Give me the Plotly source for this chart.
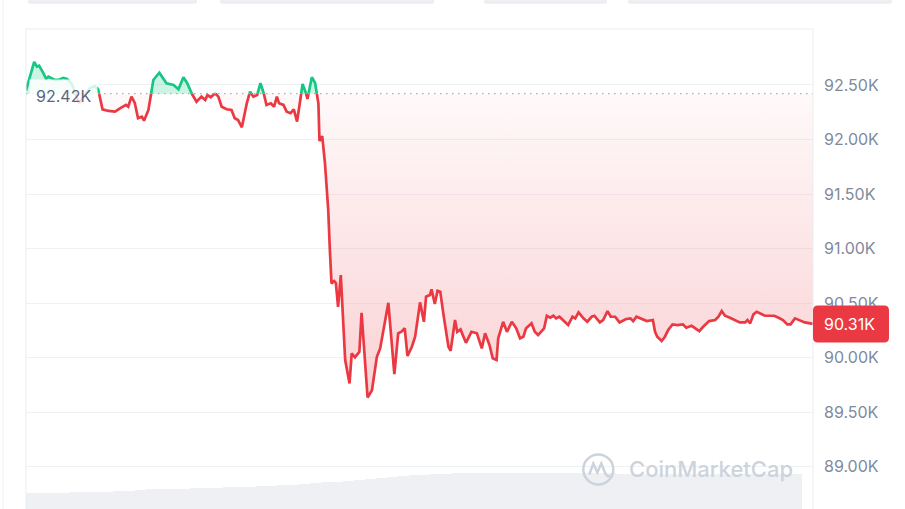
import plotly.graph_objects as go
import pandas as pd

# ---------------- data ----------------
START = pd.Timestamp("2025-12-09 01:00")
BASELINE_K = 92.42          # reference (open) price, in K USD
LAST_K = 90.31              # last price, in K USD

minutes = [0, 15, 20, 24, 32, 37, 41, 45, 53, 59, 68, 75, 84, 92, 97, 106, 117, 126, 132,
           140, 151, 163, 172, 183, 187, 193, 199, 205, 212, 216, 224, 233, 244, 251, 257,
           270, 279, 288, 295, 303, 312, 321, 328, 332, 338, 346, 352, 358, 367, 376, 382,
           388, 395, 404, 410, 416, 423, 429, 435, 440, 448, 454, 459, 463, 471, 477, 484,
           490, 496, 501, 506, 512, 515, 523, 529, 535, 537, 542, 547, 553, 556, 559, 564,
           567, 571, 576, 584, 592, 596, 602, 610, 614, 625, 633, 642, 648, 663, 674, 681,
           687, 693, 698, 706, 712, 721, 728, 732, 739, 742, 748, 753, 758, 764, 773, 777,
           785, 789, 795, 805, 815, 825, 834, 840, 848, 854, 861, 864, 873, 880, 889, 897,
           904, 910, 915, 925, 931, 937, 944, 948, 953, 959, 965, 970, 976, 983, 992, 1000,
           1005, 1011, 1020, 1027, 1035, 1040, 1050, 1056, 1064, 1070, 1078, 1086, 1098,
           1106, 1111, 1117, 1130, 1136, 1147, 1151, 1155, 1163, 1169, 1175, 1183, 1192,
           1202, 1208, 1218, 1224, 1232, 1239, 1250, 1261, 1267, 1273, 1279, 1288, 1299,
           1306, 1316, 1320, 1325, 1331, 1337, 1343, 1352, 1360, 1369, 1377, 1385, 1393,
           1399, 1407, 1416, 1425, 1440]

price_k = [92.450, 92.711, 92.668, 92.677, 92.607, 92.555, 92.576, 92.564, 92.546, 92.546,
           92.564, 92.555, 92.509, 92.399, 92.335, 92.399, 92.472, 92.491, 92.461,
           92.277, 92.262, 92.255, 92.286, 92.317, 92.301, 92.393, 92.335, 92.195, 92.209,
           92.173, 92.271, 92.546, 92.613, 92.561, 92.516,
           92.500, 92.461, 92.571, 92.516, 92.424, 92.347, 92.393, 92.362, 92.408, 92.387,
           92.424, 92.393, 92.301, 92.277, 92.271, 92.195,
           92.179, 92.112, 92.332, 92.439, 92.393, 92.408, 92.516, 92.424, 92.317, 92.332,
           92.301, 92.393, 92.332, 92.317, 92.255, 92.241,
           92.277, 92.164, 92.332, 92.509, 92.429, 92.372, 92.571, 92.518, 92.332, 91.986,
           92.032, 91.785, 91.354, 90.987, 90.682, 90.703,
           90.685, 90.467, 90.758, 89.979, 89.765, 90.040, 90.003, 90.055, 90.412, 89.636,
           89.703, 90.009, 90.086, 90.504, 89.850, 90.224,
           90.239, 90.270, 90.016, 90.101, 90.193, 90.508, 90.330, 90.559, 90.575, 90.627,
           90.492, 90.614, 90.605, 90.391, 90.101, 90.064,
           90.346, 90.238, 90.260, 90.137, 90.238, 90.224, 90.086, 90.224, 90.117, 89.995,
           89.979, 90.177, 90.330, 90.238, 90.330, 90.270,
           90.178, 90.193, 90.270, 90.315, 90.238, 90.208, 90.254, 90.270, 90.385, 90.367,
           90.385, 90.361, 90.376, 90.346, 90.300, 90.376,
           90.361, 90.416, 90.361, 90.330, 90.376, 90.385, 90.324, 90.346, 90.428, 90.376,
           90.376, 90.324, 90.355,
           90.361, 90.336, 90.376, 90.346, 90.336, 90.346, 90.238, 90.193, 90.153, 90.193,
           90.254, 90.306, 90.300,
           90.306, 90.275, 90.293, 90.275, 90.244, 90.284, 90.336, 90.346, 90.376, 90.428,
           90.385, 90.367, 90.336,
           90.324, 90.324, 90.346, 90.315, 90.398, 90.422, 90.407, 90.385, 90.385, 90.385,
           90.367, 90.346, 90.306,
           90.306, 90.361, 90.346, 90.324, 90.310]

# rolling 24h volume (billions USD), one bucket per 20 minutes starting at minute 0
vol_bucket_minutes = 20
volume_b = [32, 32.2, 32.4, 32.6, 33.2, 34, 34.4, 35, 35.8, 36.4,
            39, 39.6, 40, 40.6, 41, 42, 42.4, 42.8, 43.4, 44.2,
            45, 45.6, 46.4, 47.6, 49, 51, 52, 53.4, 55, 57,
            59, 60.6, 62, 64, 66, 68, 69, 70, 71, 71.6,
            72, 72.2, 72.4, 72.6, 72.6, 72.6, 72.4, 72.2, 72, 72,
            72, 71.6, 71.4, 71.2, 71, 71, 70.8, 70.6, 70.6, 70.4,
            70.4, 70.2, 70, 70, 70, 70, 70, 70, 70, 70, 70]

tick_vals = [89.0, 89.5, 90.0, 90.5, 91.0, 91.5, 92.0, 92.5]
tick_text = ["89.00K", "89.50K", "90.00K", "90.50K", "91.00K", "91.50K", "92.00K", "92.50K"]

GREEN = "#16c784"
RED = "#ea3943"

# ---------------- split at baseline crossings ----------------
xs, ys = [], []
for i in range(len(minutes)):
    if i > 0:
        p0, p1 = price_k[i - 1], price_k[i]
        if (p0 - BASELINE_K) * (p1 - BASELINE_K) < 0:
            f = (BASELINE_K - p0) / (p1 - p0)
            xs.append(minutes[i - 1] + f * (minutes[i] - minutes[i - 1]))
            ys.append(BASELINE_K)
    xs.append(minutes[i])
    ys.append(price_k[i])

times = START + pd.to_timedelta(xs, unit="m")
above = [max(v, BASELINE_K) for v in ys]
below = [min(v, BASELINE_K) for v in ys]
green_line = [v if v >= BASELINE_K else None for v in ys]
red_line = [v if v <= BASELINE_K else None for v in ys]
base = [BASELINE_K] * len(ys)
vol_times = START + pd.to_timedelta(
    [i * vol_bucket_minutes for i in range(len(volume_b))], unit="m")

fig = go.Figure()

# volume (secondary axis)
fig.add_trace(go.Bar(x=vol_times, y=volume_b, yaxis="y2", marker_color="#eef0f3",
                     marker_line_width=0, offset=0,
                     width=vol_bucket_minutes * 60 * 1000,
                     hoverinfo="skip", showlegend=False))

# fills
fig.add_trace(go.Scatter(x=times, y=base, mode="lines", line=dict(width=0),
                         hoverinfo="skip", showlegend=False))
fig.add_trace(go.Scatter(x=times, y=above, mode="lines", line=dict(width=0),
                         fill="tonexty", fillcolor="rgba(22,199,132,0.22)",
                         hoverinfo="skip", showlegend=False))
fig.add_trace(go.Scatter(x=times, y=base, mode="lines", line=dict(width=0),
                         hoverinfo="skip", showlegend=False))
fig.add_trace(go.Scatter(x=times, y=below, mode="lines", line=dict(width=0),
                         fill="tonexty",
                         fillgradient=dict(type="vertical", start=89.6, stop=BASELINE_K,
                                           colorscale=[[0, "rgba(234,57,67,0.23)"],
                                                       [1, "rgba(234,57,67,0.03)"]]),
                         hoverinfo="skip", showlegend=False))

# price lines
fig.add_trace(go.Scatter(x=times, y=green_line, mode="lines",
                         line=dict(color=GREEN, width=2.7), connectgaps=False,
                         showlegend=False))
fig.add_trace(go.Scatter(x=times, y=red_line, mode="lines",
                         line=dict(color=RED, width=2.7), connectgaps=False,
                         showlegend=False))

shapes = []
# baseline dotted line
shapes.append(dict(type="line", xref="paper", x0=0, x1=1, yref="y", y0=BASELINE_K,
                   y1=BASELINE_K, line=dict(color="#a6adbd", width=1.3, dash="1.5px,4.5px"),
                   layer="above"))
# frame lines
FRAME = "#eaedf1"
shapes.append(dict(type="line", xref="paper", yref="paper", x0=0, x1=0, y0=0, y1=1,
                   line=dict(color=FRAME, width=1)))
shapes.append(dict(type="line", xref="paper", yref="paper", x0=1, x1=1, y0=0, y1=1,
                   line=dict(color=FRAME, width=1)))
shapes.append(dict(type="line", xref="paper", yref="paper", x0=0, x1=1, y0=1, y1=1,
                   line=dict(color=FRAME, width=1)))
# far left page edge
shapes.append(dict(type="line", xref="paper", yref="paper", x0=-0.0292, x1=-0.0292,
                   y0=0, y1=1.07, line=dict(color="#f0f1f3", width=1)))
# top tabs (page decoration)
for x0, x1 in [(0.0038, 0.2160), (0.2478, 0.5172), (0.5832, 0.7370), (0.7662, 1.0991)]:
    shapes.append(dict(type="rect", xref="paper", yref="paper", x0=x0, x1=x1,
                       y0=1.0542, y1=1.08, fillcolor="#eef0f3",
                       line=dict(color="#e4e7eb", width=1)))
# last price rounded box
shapes.append(dict(type="path", xref="paper", xsizemode="pixel", xanchor=1,
                   yref="y", ysizemode="pixel", yanchor=LAST_K,
                   path="M 5,-18.5 L 71,-18.5 Q 76,-18.5 76,-13.5 L 76,13.5 Q 76,18.5 71,18.5 "
                        "L 5,18.5 Q 0,18.5 0,13.5 L 0,-13.5 Q 0,-18.5 5,-18.5 Z",
                   fillcolor=RED, line=dict(width=0), layer="above"))
# watermark logo
WM = "#cdd3dd"
shapes.append(dict(type="circle", xref="paper", xsizemode="pixel", xanchor=0.7272,
                   yref="paper", ysizemode="pixel", yanchor=0.0823,
                   x0=-15, x1=15, y0=-15, y1=15, line=dict(color=WM, width=2.5),
                   layer="above"))
shapes.append(dict(type="path", xref="paper", xsizemode="pixel", xanchor=0.7272,
                   yref="paper", ysizemode="pixel", yanchor=0.0823,
                   path="M -9,-5 L -5,6 L -1,-3 L 3,6 L 7,-4 Q 9,-8 12,-6",
                   line=dict(color=WM, width=2.5), layer="above"))

annotations = [
    dict(xref="paper", x=0, xanchor="left", xshift=3, yref="y", y=BASELINE_K,
         yanchor="middle", yshift=-2, text="92.42K", showarrow=False,
         font=dict(family="Inter", size=16, color="#58667e"),
         bgcolor="rgba(255,255,255,0.82)", borderpad=6),
    dict(xref="paper", x=1, xanchor="left", xshift=9, yref="y", y=LAST_K,
         yanchor="middle", text="90.31K", showarrow=False,
         font=dict(family="Inter", size=16, color="white")),
    dict(xref="paper", x=0.7637, xanchor="left", yref="paper", y=0.0823,
         yanchor="middle", text="CoinMarketCap", showarrow=False,
         font=dict(family="Inter", size=22, color=WM, weight=500)),
]

fig.update_layout(
    width=905, height=509,
    margin=dict(l=26, r=92, t=29, b=0),
    paper_bgcolor="white", plot_bgcolor="white",
    bargap=0,
    xaxis=dict(range=[START, START + pd.Timedelta(minutes=1440)], showgrid=False,
               zeroline=False, showticklabels=False, showline=False, ticks=""),
    yaxis=dict(side="right", range=[88.614, 93.013], tickvals=tick_vals, ticktext=tick_text,
               showgrid=True, gridcolor="#eff2f5", gridwidth=1, zeroline=False,
               ticks="", ticklabelstandoff=10,
               tickfont=dict(family="Inter", size=16, color="#808a9d")),
    yaxis2=dict(overlaying="y", range=[0, 960], visible=False, fixedrange=True),
    shapes=shapes,
    annotations=annotations,
    showlegend=False,
)

fig.write_html(
    "out.html",
    config={"displayModeBar": False},
    post_script="document.body.style.margin='0';document.body.style.overflow='hidden';",
)
